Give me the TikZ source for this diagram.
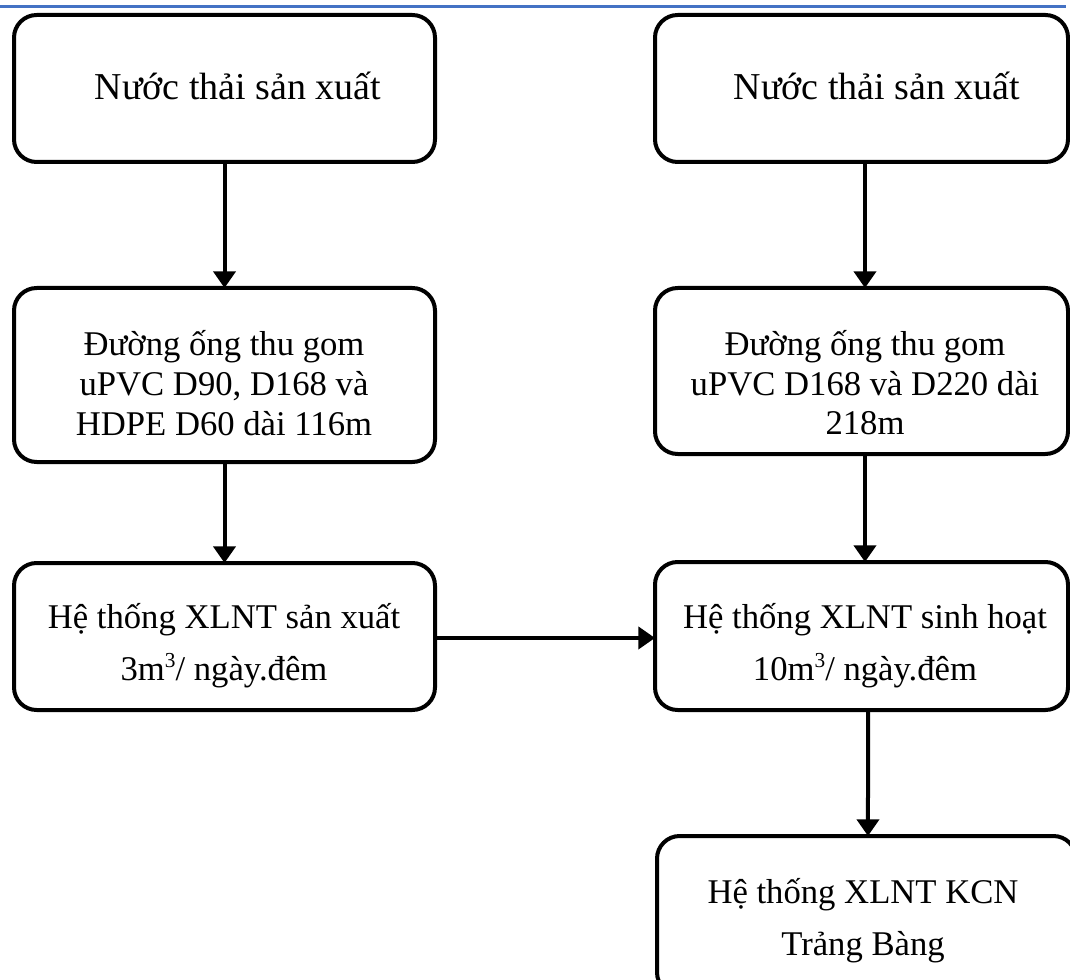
\documentclass[tikz,border=0pt]{standalone}
\usepackage{fontspec}
\setmainfont{Liberation Serif}
\usetikzlibrary{arrows.meta}
\definecolor{ruleblue}{HTML}{4472C4}
\newcommand{\cubed}{\raisebox{0.36em}{\fontsize{16pt}{16pt}\selectfont 3}}
\tikzset{
  box/.style={draw=black, line width=3pt, rounded corners=17pt, rectangle,
    inner sep=0pt, outer sep=0pt},
  txt/.style={anchor=base, inner sep=0pt, font=\fontsize{26pt}{30pt}\selectfont},
  bigtxt/.style={txt, font=\fontsize{28.5pt}{32pt}\selectfont},
  flow/.style={line width=3pt, -{Triangle[length=12.5pt,width=16.5pt]}},
}
\begin{document}
\begin{tikzpicture}[x=0.75pt, y=-0.75pt]
  \useasboundingbox (0,0) rectangle (1070,980);
  \clip (0,0) rectangle (1070,980);
  \fill[white] (0,0) rectangle (1070,980);

  % header rule
  \draw[ruleblue, line width=2pt] (0,6.7) -- (1066,6.7);

  % left column
  \node[box, minimum width=421*0.75pt, minimum height=147*0.75pt] (b1) at (224.5,88.5) {};
  \node[box, minimum width=421*0.75pt, minimum height=174*0.75pt] (b2) at (224.5,375) {};
  \node[box, minimum width=421*0.75pt, minimum height=147*0.75pt] (b3) at (224.5,636.5) {};

  % right column
  \node[box, minimum width=413*0.75pt, minimum height=147*0.75pt] (b4) at (861.5,88.5) {};
  \node[box, minimum width=413*0.75pt, minimum height=166*0.75pt] (b5) at (861.5,371) {};
  \node[box, minimum width=413*0.75pt, minimum height=148*0.75pt] (b6) at (861.5,636) {};
  \node[box, minimum width=419*0.75pt, minimum height=159*0.75pt] (b7) at (866.5,915.5) {};

  % box texts
  \node[bigtxt] (t1) at (238,100) {Nước thải sản xuất};
  \node[txt] (t2a) at (224,355) {Đường ống thu gom};
  \node[txt] (t2b) at (224,395) {uPVC D90, D168 và};
  \node[txt] (t2c) at (224,435) {HDPE D60 dài 116m};
  \node[txt] (t3a) at (224,628) {Hệ thống XLNT sản xuất};
  \node[txt] (t3b) at (224,680) {3m\cubed/ ngày.đêm};

  \node[bigtxt] (t4) at (877,100) {Nước thải sản xuất};
  \node[txt] (t5a) at (865,355) {Đường ống thu gom};
  \node[txt] (t5b) at (865,395) {uPVC D168 và D220 dài};
  \node[txt] (t5c) at (865,434) {218m};
  \node[txt] (t6a) at (865,628) {Hệ thống XLNT sinh hoạt};
  \node[txt] (t6b) at (865,680) {10m\cubed/ ngày.đêm};
  \node[txt] (t7a) at (863,903) {Hệ thống XLNT KCN};
  \node[txt] (t7b) at (863,955) {Trảng Bàng};

  % connectors
  \draw[flow] (b1.south) -- (b2.north);
  \draw[flow] (b2.south) -- (b3.north);
  \draw[flow] ([xshift=2.6pt]b4.south) -- ([xshift=2.6pt]b5.north);
  \draw[flow] ([xshift=2.6pt]b5.south) -- ([xshift=2.6pt]b6.north);
  \draw[flow] ([xshift=4.9pt]b6.south) -- ([xshift=1.1pt]b7.north);
  \draw[flow] ([yshift=-1.1pt]b3.east) -- ([yshift=-1.1pt]b3.east -| b6.west);
\end{tikzpicture}
\end{document}
